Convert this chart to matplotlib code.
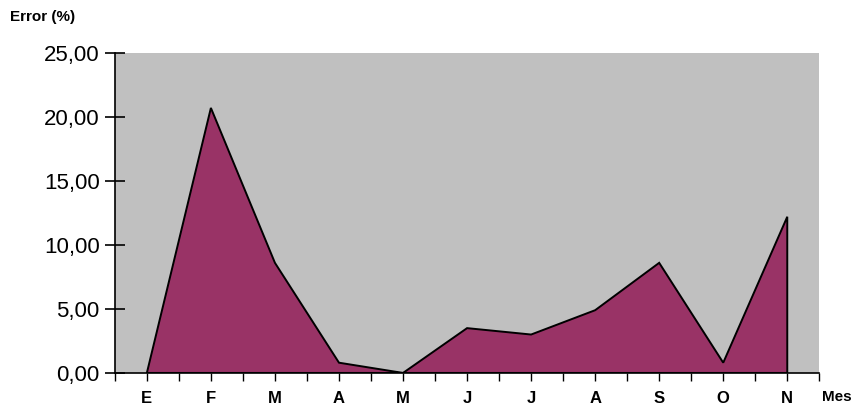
import numpy as np
import matplotlib
matplotlib.use("Agg")
import matplotlib.pyplot as plt

plt.rcParams["font.family"] = ["Liberation Sans", "DejaVu Sans"]

# Datos
meses = ["E", "F", "M", "A", "M", "J", "J", "A", "S", "O", "N"]
error = [0.0, 20.7, 8.6, 0.8, 0.0, 3.5, 3.0, 4.9, 8.6, 0.8, 12.2]
yticks = [0, 5, 10, 15, 20, 25]

fig = plt.figure(figsize=(8.57, 4.13), dpi=100)
ax = fig.add_axes([0.134, 0.097, 0.822, 0.775])
ax.set_facecolor("#C0C0C0")

x = np.arange(len(meses))
xs = np.r_[x, x[-1], x[0]]
ys = np.r_[error, 0, 0]
ax.fill(xs, ys, facecolor="#993366", edgecolor="black", linewidth=1.4, zorder=2)

ax.set_xlim(-0.5, len(meses) - 0.5)
ax.set_ylim(0, 25)

# Eje x: marcas cada media categoria
ticks = np.arange(-0.5, len(meses) - 0.49, 0.5)
labels = []
for t in ticks:
    if abs(t - round(t)) < 1e-9 and 0 <= round(t) < len(meses):
        labels.append(meses[int(round(t))])
    else:
        labels.append("")
ax.set_xticks(ticks)
ax.set_xticklabels(labels, fontsize=12, fontweight="bold")
ax.tick_params(axis="x", direction="out", length=6, width=1, pad=7)

ax.set_yticks(yticks)
ax.set_yticklabels([f"{v:.2f}".replace(".", ",") for v in yticks], fontsize=16)
ax.tick_params(axis="y", direction="inout", length=14, width=1.2, pad=4)

for s in ["top", "right"]:
    ax.spines[s].set_visible(False)
ax.spines["left"].set_linewidth(1.2)
ax.spines["bottom"].set_linewidth(1.2)

fig.text(0.012, 0.958, "Error (%)", fontsize=11, fontweight="bold", va="center")
fig.text(0.959, 0.038, "Mes", fontsize=11, fontweight="bold", va="center")

fig.savefig("out.png", dpi=100)
